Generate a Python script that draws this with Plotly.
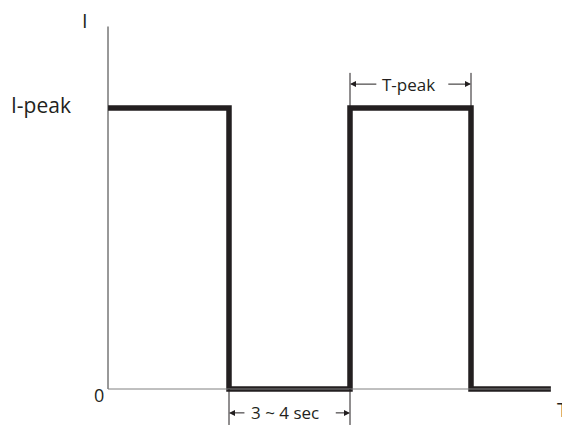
import plotly.graph_objects as go

# square current pulse: time in pulse units, current as fraction of I-peak
time = [0, 1, 1, 2, 2, 3, 3, 3.66]
current = [1, 1, 0, 0, 1, 1, 0, 0]
i_peak = 1
t_peak = [2, 3]      # marked pulse width
t_gap = [1, 2]       # marked off period
y_top = 1.29         # top of the current axis

dark = "#231f20"
font = "Open Sans"

fig = go.Figure()

# axes drawn as plain lines
fig.add_shape(type="line", x0=0, y0=0, x1=0, y1=y_top, line=dict(color="#333333", width=1))
fig.add_shape(type="line", x0=0, y0=0, x1=time[-1], y1=0, line=dict(color="#808080", width=1))

# dimension ticks
for t in t_peak:
    fig.add_shape(type="line", x0=t, y0=i_peak, x1=t, y1=1.125, line=dict(color=dark, width=1))
for t in t_gap:
    fig.add_shape(type="line", x0=t, y0=0, x1=t, y1=-0.128, line=dict(color=dark, width=1))

# the pulse
fig.add_trace(go.Scatter(x=time, y=current, mode="lines",
                         line=dict(color=dark, width=5.5), showlegend=False))

def label(x, y, text, size, **kw):
    fig.add_annotation(x=x, y=y, text=text, showarrow=False,
                       font=dict(family=font, size=size, color=dark), **kw)

def arrow(x_tip, x_tail, y):
    fig.add_annotation(x=x_tip, y=y, ax=x_tail, ay=y, axref="x", ayref="y",
                       text="", showarrow=True, arrowhead=2, arrowsize=1.2,
                       arrowwidth=1, arrowcolor=dark)

label(-0.19, 1.31, "I", 20)
label(-0.555, i_peak + 0.012, "I-peak", 21)
label(-0.075, -0.022, "0", 18)
label(3.755, -0.072, "T", 20)

y_tp = 1.085
label((t_peak[0] + t_peak[1]) / 2 - 0.02, y_tp, "T-peak", 17)
arrow(t_peak[0], t_peak[0] + 0.23, y_tp)
arrow(t_peak[1], t_peak[1] - 0.2, y_tp)

y_gap = -0.085
label((t_gap[0] + t_gap[1]) / 2 - 0.04, y_gap, "3 ~ 4 sec", 17)
arrow(t_gap[0], t_gap[0] + 0.14, y_gap)
arrow(t_gap[1], t_gap[1] - 0.13, y_gap)

fig.update_layout(
    width=570, height=427,
    margin=dict(l=0, r=0, t=0, b=0),
    plot_bgcolor="white", paper_bgcolor="white",
    xaxis=dict(range=[-100 / 121, 470 / 121], visible=False),
    yaxis=dict(range=[-46 / 281, 381 / 281], visible=False),
)

fig.write_html("out.html")
